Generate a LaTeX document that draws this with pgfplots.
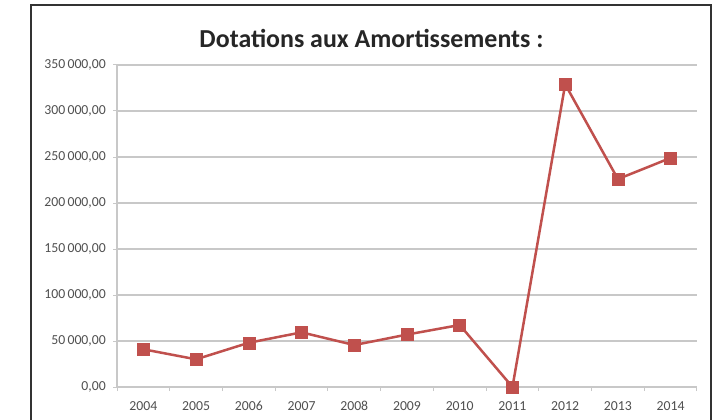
\documentclass[border=0pt]{standalone}
\usepackage{pgfplots}
\pgfplotsset{compat=1.18}
\usepackage{fontspec}
\setmainfont{Carlito}
\definecolor{serie}{RGB}{192,80,77}
\definecolor{grille}{RGB}{200,200,200}
\definecolor{txt}{RGB}{80,80,80}
\begin{document}
\begin{tikzpicture}[x=1bp,y=1bp]
\useasboundingbox (0,0) rectangle (719,419);
\fill[white] (0,0) rectangle (719,419);
\draw[line width=1.8bp, color=black!80] (31,-10) -- (31,414) -- (711,414) -- (711,-10);
\node[anchor=base, font=\fontsize{26}{30}\selectfont\bfseries, text=black!85] at (371.5,372) {Dotations aux Amortissements :};
\begin{axis}[
  at={(117bp,32bp)}, anchor=south west,
  scale only axis, width=580bp, height=322bp,
  xmin=2003.5, xmax=2014.5, ymin=0, ymax=350000,
  axis x line*=bottom, axis y line*=left,
  axis line style={color=grille, line width=1.2bp},
  xtick={2004,...,2014},
  xticklabels={2004,2005,2006,2007,2008,2009,2010,2011,2012,2013,2014},
  minor xtick={2003.5,2004.5,...,2014.5},
  ytick={0,50000,...,350000},
  tick align=outside,
  major tick length=4bp, minor tick length=4bp,
  x tick style={draw=none}, minor x tick style={draw=grille, line width=1bp},
  y tick style={draw=grille, line width=1bp},
  ymajorgrids, grid style={color=grille, line width=1.5bp},
  scaled y ticks=false,
  /pgf/number format/assume math mode=true,
  yticklabel={\pgfmathprintnumber[fixed, fixed zerofill, precision=2, use comma, 1000 sep={\,}]{\tick}},
  ticklabel style={font=\fontsize{13.8}{15}\selectfont, text=txt},
  yticklabel style={anchor=east, inner sep=0pt, xshift=-7bp},
  xticklabel style={anchor=north, inner sep=0pt, text height=9.5bp, text depth=0pt, yshift=-9.5bp},
  clip=false,
]
\addplot[color=serie, line width=2.5bp, mark=square*, mark size=6bp, mark options={fill=serie, draw=serie, line width=0.5bp}]
coordinates {
(2004,41000) (2005,30100) (2006,48100) (2007,59400) (2008,45600) (2009,57000)
(2010,67400) (2011,0) (2012,329000) (2013,226000) (2014,249000)
};
\end{axis}
\end{tikzpicture}
\end{document}
